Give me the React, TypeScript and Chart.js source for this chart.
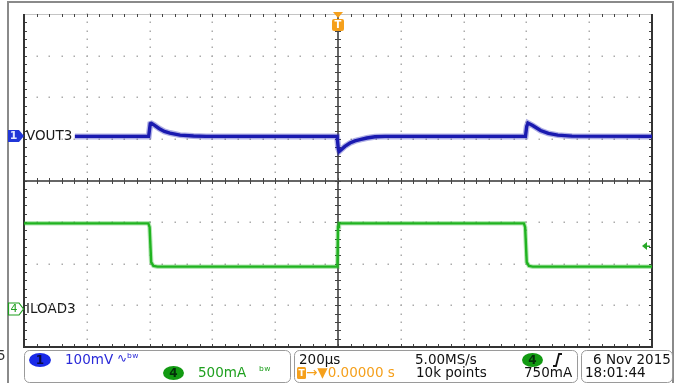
import React, { useEffect, useRef } from "react";
import { Chart, registerables } from "chart.js";

Chart.register(...registerables);

// ---- Horizontal (time) settings ----
const TIME_MIN_US = -1000;
const TIME_MAX_US = 1000;
const TIME_PER_DIV_US = 200;
const DIV_MIN = -4;
const DIV_MAX = 4;

// ---- Channel 1: VOUT3 (AC coupled, 100 mV/div) ----
const CH1_MV_PER_DIV = 100;
const CH1_OFFSET_DIV = 1.06;
const vout3TimeUs = [-838, -603, -598, -594, -585, -570, -553, -535, -503, -460, -420, -3, 1, 4, 22, 38, 54, 70, 92, 118, 150, 597, 601, 605, 620, 645, 670, 700, 745, 1000];
const vout3mV = [0, 0, 30, 31, 27, 19, 12, 8, 3, 1, 0, 0, -30, -36, -24, -16, -11, -8, -4, -1, 0, 0, 24, 32, 26, 14, 7, 3, 0.5, 0];

// ---- Channel 4: ILOAD3 (500 mA/div) ----
const CH4_A_PER_DIV = 0.5;
const CH4_OFFSET_DIV = -3.08;
const iload3TimeUs = [-1000, -604, -600, -595, -588, -575, -2, 0, 3, 592, 596, 601, 608, 620, 1000];
const iload3A = [1.025, 1.025, 0.98, 0.56, 0.515, 0.505, 0.505, 0.98, 1.025, 1.025, 0.98, 0.56, 0.515, 0.505, 0.505];

// ---- Trigger ----
const TRIGGER_TIME_US = 0;
const TRIGGER_LEVEL_A = 0.75;

// ---- Labels / readouts ----
const CH1_LABEL = "VOUT3";
const CH4_LABEL = "ILOAD3";
const CH1_SCALE_TEXT = "100mV";
const CH4_SCALE_TEXT = "500mA";
const TIMEBASE_TEXT = "200µs";
const TRIG_POS_TEXT = "→▼0.00000 s";
const SAMPLE_RATE_TEXT = "5.00MS/s";
const RECORD_TEXT = "10k points";
const TRIG_LEVEL_TEXT = "750mA";
const DATE_TEXT = "6 Nov 2015";
const TIME_TEXT = "18:01:44";

const BLUE = "#1a1aae";
const BLUE_HALO = "rgba(30,30,180,0.35)";
const GREEN = "#1db01d";
const GREEN_HALO = "rgba(40,185,40,0.35)";
const ORANGE = "#f5a01c";
const FONT = '13.5px "DejaVu Sans", sans-serif';

const ch1Points = vout3TimeUs.map((t, i) => ({ x: t, y: CH1_OFFSET_DIV + vout3mV[i] / CH1_MV_PER_DIV }));
const ch4Points = iload3TimeUs.map((t, i) => ({ x: t, y: CH4_OFFSET_DIV + iload3A[i] / CH4_A_PER_DIV }));

const graticule = {
  id: "graticule",
  beforeDatasetsDraw(chart: any) {
    const { ctx, chartArea: a, scales } = chart;
    const x = scales.x;
    const y = scales.y;
    ctx.save();
    const nX = (TIME_MAX_US - TIME_MIN_US) / TIME_PER_DIV_US;
    const nY = DIV_MAX - DIV_MIN;
    ctx.fillStyle = "#ababab";
    for (let i = 1; i < nX; i++) {
      const t = TIME_MIN_US + i * TIME_PER_DIV_US;
      if (t === 0) continue;
      const px = Math.round(x.getPixelForValue(t));
      for (let k = 0; k <= nY * 5; k++) {
        const py = Math.round(y.getPixelForValue(DIV_MIN + k * 0.2));
        ctx.fillRect(px - 0.5, py - 0.5, 1.5, 1.5);
      }
    }
    for (let j = 1; j < nY; j++) {
      const d = DIV_MIN + j;
      if (d === 0) continue;
      const py = Math.round(y.getPixelForValue(d));
      for (let k = 0; k <= nX * 5; k++) {
        const px = Math.round(x.getPixelForValue(TIME_MIN_US + k * TIME_PER_DIV_US / 5));
        ctx.fillRect(px - 0.5, py - 0.5, 1.5, 1.5);
      }
    }
    ctx.strokeStyle = "#c4c4c4";
    ctx.lineWidth = 1;
    ctx.beginPath();
    ctx.moveTo(a.left, a.top + 0.5);
    ctx.lineTo(a.right, a.top + 0.5);
    ctx.stroke();
    const cx = Math.round(x.getPixelForValue(0));
    const cy = Math.round(y.getPixelForValue(0));
    ctx.strokeStyle = "#666";
    ctx.lineWidth = 2;
    ctx.beginPath();
    ctx.moveTo(a.left, cy);
    ctx.lineTo(a.right, cy);
    ctx.moveTo(cx, a.top);
    ctx.lineTo(cx, a.bottom);
    ctx.stroke();
    ctx.strokeStyle = "#444";
    ctx.lineWidth = 1;
    ctx.beginPath();
    for (let k = 1; k < nX * 5; k++) {
      const px = Math.round(x.getPixelForValue(TIME_MIN_US + k * TIME_PER_DIV_US / 5)) + 0.5;
      ctx.moveTo(px, cy - 3);
      ctx.lineTo(px, cy + 3);
      ctx.moveTo(px, a.top);
      ctx.lineTo(px, a.top + 3);
      ctx.moveTo(px, a.bottom);
      ctx.lineTo(px, a.bottom - 3);
    }
    for (let k = 1; k < nY * 5; k++) {
      const py = Math.round(y.getPixelForValue(DIV_MIN + k * 0.2)) + 0.5;
      ctx.moveTo(cx - 3, py);
      ctx.lineTo(cx + 3, py);
      ctx.moveTo(a.left, py);
      ctx.lineTo(a.left + 3, py);
      ctx.moveTo(a.right, py);
      ctx.lineTo(a.right - 3, py);
    }
    ctx.stroke();
    ctx.strokeStyle = "#333";
    ctx.lineWidth = 2;
    ctx.beginPath();
    ctx.moveTo(a.left, a.top);
    ctx.lineTo(a.left, a.bottom);
    ctx.lineTo(a.right, a.bottom);
    ctx.lineTo(a.right, a.top);
    ctx.stroke();
    ctx.restore();
  },
};

function txt(ctx: any, s: string, x: number, y: number, color: string, font = FONT, align = "left") {
  ctx.font = font;
  ctx.fillStyle = color;
  ctx.textAlign = align;
  ctx.textBaseline = "middle";
  ctx.fillText(s, x, y);
}

function pill(ctx: any, x: number, y: number, w: number, h: number, fill: string, label: string, labelColor: string) {
  ctx.beginPath();
  ctx.ellipse(x + w / 2, y, w / 2, h / 2, 0, 0, Math.PI * 2);
  ctx.fillStyle = fill;
  ctx.fill();
  txt(ctx, label, x + w / 2, y + 0.5, labelColor, 'bold 12px "DejaVu Sans", sans-serif', "center");
}

const overlay = {
  id: "overlay",
  afterDraw(chart: any) {
    const { ctx, chartArea: a, scales } = chart;
    const x = scales.x;
    const y = scales.y;
    const H = chart.height;
    ctx.save();
    ctx.strokeStyle = "#8a8a8a";
    ctx.lineWidth = 2;
    ctx.beginPath();
    ctx.moveTo(8, H);
    ctx.lineTo(8, 2);
    ctx.lineTo(673, 2);
    ctx.lineTo(673, H);
    ctx.stroke();

    const y1 = Math.round(y.getPixelForValue(CH1_OFFSET_DIV));
    ctx.beginPath();
    ctx.moveTo(8, y1 - 6);
    ctx.lineTo(19, y1 - 6);
    ctx.lineTo(24, y1);
    ctx.lineTo(19, y1 + 6);
    ctx.lineTo(8, y1 + 6);
    ctx.closePath();
    ctx.fillStyle = "#2036d8";
    ctx.fill();
    txt(ctx, "1", 13.5, y1 + 0.5, "#dfe6ff", 'bold 11px "DejaVu Sans", sans-serif', "center");
    txt(ctx, CH1_LABEL, 26, y1, "#1a1a1a");

    const y4 = Math.round(y.getPixelForValue(CH4_OFFSET_DIV));
    ctx.beginPath();
    ctx.moveTo(8.5, y4 - 6);
    ctx.lineTo(19, y4 - 6);
    ctx.lineTo(23.5, y4);
    ctx.lineTo(19, y4 + 6);
    ctx.lineTo(8.5, y4 + 6);
    ctx.closePath();
    ctx.fillStyle = "#fff";
    ctx.fill();
    ctx.strokeStyle = "#1f9f1f";
    ctx.lineWidth = 1.2;
    ctx.stroke();
    txt(ctx, "4", 14, y4 + 0.5, "#1f9f1f", '11px "DejaVu Sans", sans-serif', "center");
    txt(ctx, CH4_LABEL, 26, y4, "#1a1a1a");

    const tx = Math.round(x.getPixelForValue(TRIGGER_TIME_US));
    ctx.fillStyle = ORANGE;
    ctx.beginPath();
    ctx.moveTo(tx - 5, 12);
    ctx.lineTo(tx + 5, 12);
    ctx.lineTo(tx, 18);
    ctx.closePath();
    ctx.fill();
    ctx.beginPath();
    ctx.roundRect(tx - 6, 19, 12, 12, 2);
    ctx.fill();
    txt(ctx, "T", tx, 25.5, "#fff", 'bold 10px "DejaVu Sans", sans-serif', "center");

    const ty = Math.round(y.getPixelForValue(CH4_OFFSET_DIV + TRIGGER_LEVEL_A / CH4_A_PER_DIV));
    ctx.fillStyle = "#28a828";
    ctx.beginPath();
    ctx.moveTo(a.right - 10, ty);
    ctx.lineTo(a.right - 5, ty - 4);
    ctx.lineTo(a.right - 5, ty + 4);
    ctx.closePath();
    ctx.fill();
    ctx.fillRect(a.right - 5, ty - 0.5, 3, 1.5);

    ctx.strokeStyle = "#9a9a9a";
    ctx.lineWidth = 1;
    ctx.beginPath();
    ctx.roundRect(24.5, 350.5, 266, 32, 5);
    ctx.roundRect(294.5, 350.5, 283, 32, 5);
    ctx.roundRect(581.5, 350.5, 91, 32, 5);
    ctx.stroke();
    txt(ctx, "5", -3, 356, "#333");

    pill(ctx, 29, 360, 22, 14, "#1a2ae8", "1", "#0a0a40");
    txt(ctx, CH1_SCALE_TEXT, 65, 360, "#2a2ad8");
    txt(ctx, "∿ᵇʷ", 117, 359, "#2a2ad8", '12px "DejaVu Sans", sans-serif');
    pill(ctx, 163, 373, 21, 14, "#129a12", "4", "#04300a");
    txt(ctx, CH4_SCALE_TEXT, 198, 373, "#1fa01f");
    txt(ctx, "ᵇʷ", 259, 372, "#1fa01f", '12px "DejaVu Sans", sans-serif');

    txt(ctx, TIMEBASE_TEXT, 299, 360, "#111");
    ctx.fillStyle = ORANGE;
    ctx.beginPath();
    ctx.roundRect(297, 367, 9, 12, 1.5);
    ctx.fill();
    txt(ctx, "T", 301.5, 373.5, "#fff", 'bold 9px "DejaVu Sans", sans-serif', "center");
    txt(ctx, TRIG_POS_TEXT, 306, 373, ORANGE);
    txt(ctx, SAMPLE_RATE_TEXT, 415, 360, "#111");
    txt(ctx, RECORD_TEXT, 416, 373, "#111");
    pill(ctx, 522, 360, 21, 14, "#129a12", "4", "#04300a");
    ctx.strokeStyle = "#111";
    ctx.lineWidth = 1.8;
    ctx.beginPath();
    ctx.moveTo(553, 366);
    ctx.lineTo(556, 366);
    ctx.lineTo(559, 354);
    ctx.lineTo(562, 354);
    ctx.stroke();
    txt(ctx, TRIG_LEVEL_TEXT, 524, 373, "#111");

    txt(ctx, DATE_TEXT, 593, 360, "#111");
    txt(ctx, TIME_TEXT, 585, 373, "#111");
    ctx.restore();
  },
};

export default function App() {
  const canvasRef = useRef<HTMLCanvasElement | null>(null);
  useEffect(() => {
    const canvas = canvasRef.current;
    if (!canvas) return;
    const chart = new Chart(canvas, {
      type: "line",
      data: {
        datasets: [
          { label: CH4_LABEL + " halo", data: ch4Points, borderColor: GREEN_HALO, borderWidth: 4.5, pointRadius: 0, tension: 0, fill: false },
          { label: CH4_LABEL, data: ch4Points, borderColor: GREEN, borderWidth: 2.4, pointRadius: 0, tension: 0, fill: false },
          { label: CH1_LABEL + " halo", data: ch1Points, borderColor: BLUE_HALO, borderWidth: 6, pointRadius: 0, tension: 0, fill: false },
          { label: CH1_LABEL, data: ch1Points, borderColor: BLUE, borderWidth: 3.4, pointRadius: 0, tension: 0, fill: false },
        ],
      },
      options: {
        animation: false,
        responsive: false,
        devicePixelRatio: 1,
        layout: { padding: { left: 24, top: 14, right: 29, bottom: 36 } },
        plugins: { legend: { display: false }, tooltip: { enabled: false } },
        scales: {
          x: { type: "linear", min: TIME_MIN_US, max: TIME_MAX_US, display: false },
          y: { type: "linear", min: DIV_MIN, max: DIV_MAX, display: false },
        },
      },
      plugins: [graticule, overlay],
    } as any);
    return () => chart.destroy();
  }, []);
  return (
    <div style={{ position: "fixed", left: 0, top: 0, width: 681, height: 383, background: "#fff" }}>
      <canvas ref={canvasRef} width={681} height={383} style={{ display: "block" }} />
    </div>
  );
}
